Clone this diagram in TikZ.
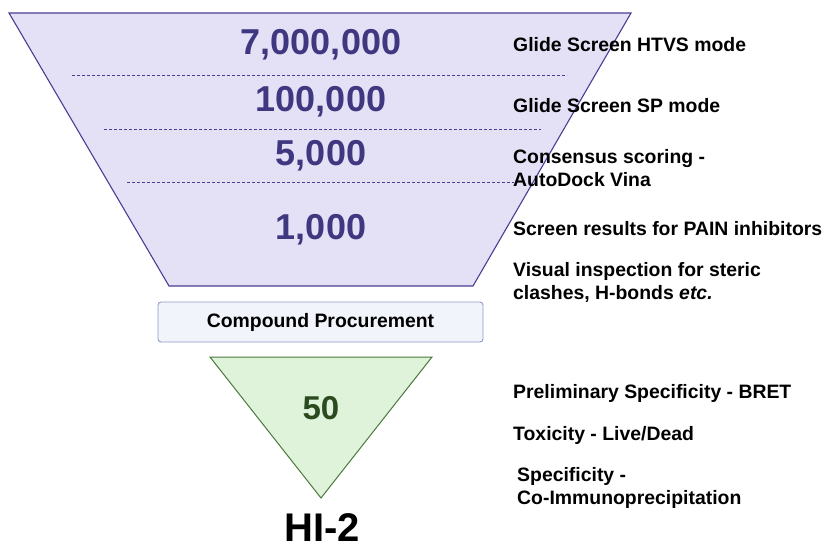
\documentclass[tikz,border=0pt]{standalone}
\usepackage{fontspec}
\setmainfont{Liberation Sans}
\definecolor{funfill}{HTML}{E4E1F6}
\definecolor{funline}{HTML}{4B3D93}
\definecolor{numcol}{HTML}{3F3780}
\definecolor{boxfill}{HTML}{F1F4FA}
\definecolor{boxline}{HTML}{8F9CC6}
\definecolor{trifill}{HTML}{DFF2DA}
\definecolor{triline}{HTML}{4A7A3A}
\definecolor{tritext}{HTML}{2A4A1F}
\begin{document}
\begin{tikzpicture}[x=1pt,y=-1pt,
  num/.style={text=numcol,font=\bfseries\fontsize{36}{40}\selectfont,inner sep=0pt},
  lbl/.style={anchor=west,align=left,font=\bfseries\fontsize{19.4}{23}\selectfont,inner sep=0pt},
  sep/.style={draw=funline,dash pattern=on 3pt off 2pt,line width=0.7pt}]
\useasboundingbox (0,0) rectangle (829,549);
% funnel
\draw[fill=funfill,draw=funline,line width=1.1pt] (9,13) -- (631,13) -- (473,286) -- (169,286) -- cycle;
\coordinate (s1a) at (72,75);  \coordinate (s1b) at (567,75);
\coordinate (s2a) at (104,129); \coordinate (s2b) at (541,129);
\coordinate (s3a) at (127,182); \coordinate (s3b) at (514,182);
\draw[sep] (s1a) -- (s1b);
\draw[sep] (s2a) -- (s2b);
\draw[sep] (s3a) -- (s3b);
\node[num] (n1) at (321,45) {7,000,000};
\node[num] (n2) at (321,102) {100,000};
\node[num] (n3) at (321,156) {5,000};
\node[num] (n4) at (321,230) {1,000};
% labels
\node[lbl] (l1) at (513,45) {Glide Screen HTVS mode};
\node[lbl] (l2) at (513,106) {Glide Screen SP mode};
\node[lbl] (l3) at (513,168.5) {Consensus scoring -\\AutoDock Vina};
\node[lbl] (l4) at (513,229) {Screen results for PAIN inhibitors};
\node[lbl] (l5) at (513,282.5) {Visual inspection for steric\\clashes, H-bonds \textit{etc.}};
% procurement box
\node[draw=boxline,fill=boxfill,rounded corners=3pt,line width=0.9pt,minimum width=325pt,minimum height=40pt,inner sep=0pt,font=\bfseries\fontsize{19.4}{22}\selectfont] (proc) at (320.5,322) {Compound Procurement};
% green triangle
\draw[fill=trifill,draw=triline,line width=1pt] (210,357) -- (432,357) -- (321,498) -- cycle;
\node[text=tritext,font=\bfseries\fontsize{33}{36}\selectfont,inner sep=0pt] (fifty) at (321,408) {50};
\node[lbl] (l6) at (513,393) {Preliminary Specificity - BRET};
\node[lbl] (l7) at (513,435) {Toxicity - Live/Dead};
\node[lbl] (l8) at (517,488) {Specificity -\\Co-Immunoprecipitation};
\node[font=\bfseries\fontsize{40}{44}\selectfont,inner sep=0pt] (hi) at (322,528) {HI-2};
\end{tikzpicture}
\end{document}
